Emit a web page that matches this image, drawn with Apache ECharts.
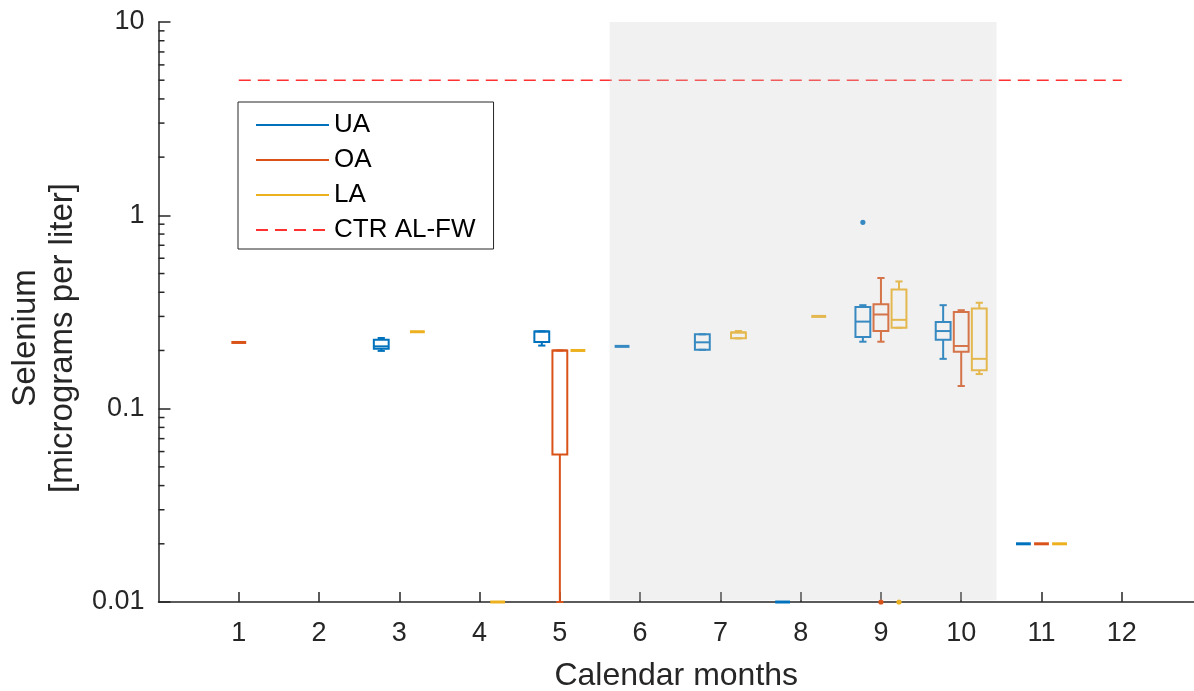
<!DOCTYPE html>
<html><head><meta charset="utf-8">
<script src="https://cdn.jsdelivr.net/npm/echarts@6/dist/echarts.min.js"></script>
<style>html,body{margin:0;padding:0;background:#fff}#c{width:1194px;height:691px}</style>
</head><body><div id="c"></div>
<script>
// ---------- data ----------
const monthTicks = [1,2,3,4,5,6,7,8,9,10,11,12];
const yRange = [0.01, 10];
const yMinorTicks = [0.02,0.03,0.04,0.05,0.06,0.07,0.08,0.09,0.2,0.3,0.4,0.5,0.6,0.7,0.8,0.9,2,3,4,5,6,7,8,9];
const seriesNames = ['UA','OA','LA'];
const seriesColors = ['#0072BD','#D95319','#EDB120'];

// box stats per month: [month, min, q1, median, q3, max]
const UA_boxes = [
  [3, 0.199, 0.204, 0.210, 0.227, 0.232],
  [5, 0.212, 0.221, 0.251, 0.251, 0.251],
  [6, 0.21, 0.21, 0.21, 0.21, 0.21],
  [7, 0.2016, 0.2016, 0.2204, 0.2424, 0.2424],
  [8, 0.01, 0.01, 0.01, 0.01, 0.01],
  [9, 0.222, 0.235, 0.282, 0.336, 0.343],
  [10, 0.181, 0.227, 0.252, 0.281, 0.343],
  [11, 0.02, 0.02, 0.02, 0.02, 0.02]
];
const OA_boxes = [
  [1, 0.22, 0.22, 0.22, 0.22, 0.22],
  [5, 0.01, 0.058, 0.200, 0.200, 0.200],
  [9, 0.222, 0.252, 0.307, 0.347, 0.474],
  [10, 0.131, 0.197, 0.211, 0.316, 0.323],
  [11, 0.02, 0.02, 0.02, 0.02, 0.02]
];
const LA_boxes = [
  [3, 0.25, 0.25, 0.25, 0.25, 0.25],
  [4, 0.01, 0.01, 0.01, 0.01, 0.01],
  [5, 0.2, 0.2, 0.2, 0.2, 0.2],
  [7, 0.231, 0.231, 0.248, 0.248, 0.252],
  [8, 0.30, 0.30, 0.30, 0.30, 0.30],
  [9, 0.262, 0.262, 0.288, 0.414, 0.455],
  [10, 0.151, 0.158, 0.181, 0.330, 0.353],
  [11, 0.02, 0.02, 0.02, 0.02, 0.02]
];
// outliers: [month, value]
const UA_outliers = [[9, 0.92]];
const OA_outliers = [[9, 0.01]];
const LA_outliers = [[9, 0.01]];

const shadeMonths = [5.62, 10.44];
const ctrName = 'CTR AL-FW';
const ctrValue = 5;
const ctrSpan = [1, 12];

// ---------- style constants ----------
const FONT = '"Liberation Sans", Arial, Helvetica, sans-serif';
const TXT = '#262626';
const OFFSETS = [-0.225, 0, 0.225];
const BOX_W = 0.185;
const CAP_W = 0.09;

function boxRenderer(offset, color) {
  return function (params, api) {
    const x = api.value(0) + offset;
    const v = [1,2,3,4,5].map(i => api.value(i));
    const y = v.map(val => api.coord([x, val])[1]);
    const cx = api.coord([x, 1])[0];
    const bw = api.coord([x + BOX_W/2, 1])[0] - api.coord([x - BOX_W/2, 1])[0];
    const cw = api.coord([x + CAP_W/2, 1])[0] - api.coord([x - CAP_W/2, 1])[0];
    const flat = v[0] === v[4];
    const lw = flat ? 3 : 2;
    const st = {stroke: color, lineWidth: lw, fill: null};
    const children = [];
    if (!flat) {
      children.push({type:'line', shape:{x1:cx,y1:y[4],x2:cx,y2:y[3]}, style:st});
      children.push({type:'line', shape:{x1:cx,y1:y[1],x2:cx,y2:y[0]}, style:st});
      children.push({type:'line', shape:{x1:cx-cw/2,y1:y[4],x2:cx+cw/2,y2:y[4]}, style:st});
      children.push({type:'line', shape:{x1:cx-cw/2,y1:y[0],x2:cx+cw/2,y2:y[0]}, style:st});
      children.push({type:'rect', shape:{x:cx-bw/2,y:y[3],width:bw,height:y[1]-y[3]}, style:st});
    }
    children.push({type:'line', shape:{x1:cx-bw/2,y1:y[2],x2:cx+bw/2,y2:y[2]}, style:st});
    return {type:'group', children};
  };
}
function outlierRenderer(offset, color) {
  return function (params, api) {
    const p = api.coord([api.value(0) + offset, api.value(1)]);
    return {type:'circle', shape:{cx:p[0], cy:p[1], r:2.6}, style:{fill:color}};
  };
}

const boxSets = [UA_boxes, OA_boxes, LA_boxes];
const outSets = [UA_outliers, OA_outliers, LA_outliers];
const series = [];
seriesNames.forEach((nm, i) => {
  series.push({type:'line', name:nm, data:[], symbol:'none', lineStyle:{color:seriesColors[i], width:2}, itemStyle:{color:seriesColors[i]}});
  series.push({type:'custom', name:nm+' box', data:boxSets[i], renderItem:boxRenderer(OFFSETS[i], seriesColors[i]), clip:false, z:3, silent:true});
  series.push({type:'custom', name:nm+' outliers', data:outSets[i], renderItem:outlierRenderer(OFFSETS[i], seriesColors[i]), clip:false, z:3, silent:true});
});
series.push({type:'line', name:ctrName, data:ctrSpan.map(m => [m, ctrValue]), symbol:'none',
  lineStyle:{color:'#FF3030', width:1.5, type:[12,7]}, itemStyle:{color:'#FF3030'}, z:4, silent:true});
// shaded period drawn on top (semi-transparent)
series.push({type:'custom', name:'shade', data:[shadeMonths], clip:false, z:6, silent:true,
  renderItem: function (params, api) {
    const p1 = api.coord([api.value(0), yRange[1]]);
    const p2 = api.coord([api.value(1), yRange[0] * 1.02]);
    return {type:'rect', shape:{x:p1[0], y:p1[1], width:p2[0]-p1[0], height:p2[1]-p1[1]}, style:{fill:'rgba(204,204,204,0.27)'}};
  }});
// minor log ticks on y axis
series.push({type:'custom', name:'minor', data:yMinorTicks.map(v => [0, v]), clip:false, z:1, silent:true,
  renderItem: function (params, api) {
    const p = api.coord([api.value(0), api.value(1)]);
    return {type:'line', shape:{x1:p[0], y1:p[1], x2:p[0]+6, y2:p[1]}, style:{stroke:TXT, lineWidth:1.5}};
  }});

const chart = echarts.init(document.getElementById('c'), null, {renderer:'canvas'});
chart.setOption({
  animation:false,
  backgroundColor:'#fff',
  textStyle:{fontFamily:FONT},
  grid:{left:158.5, top:22, right:0, bottom:89, containLabel:false, outerBoundsMode:'none'},
  legend:{
    data:[...seriesNames, ctrName], orient:'vertical', left:238, top:102,
    itemWidth:73, itemHeight:14, itemGap:9, itemTextGap:7,
    padding:[10,18,6,17], borderColor:'#262626', borderWidth:1, borderRadius:0, backgroundColor:'#fff',
    textStyle:{fontSize:26, color:'#000', fontFamily:FONT, lineHeight:26},
    itemStyle:{opacity:0}, selectedMode:false
  },
  xAxis:{
    type:'value', min:0, max:12.9, interval:1,
    name:'Calendar months', nameLocation:'middle', nameGap:58,
    nameTextStyle:{fontSize:32, color:TXT, fontFamily:FONT},
    axisLine:{show:true, lineStyle:{color:TXT, width:1.5}},
    axisTick:{show:true, inside:true, length:10, lineStyle:{color:TXT, width:1.5}, customValues:monthTicks},
    axisLabel:{fontSize:27, color:TXT, margin:18, fontFamily:FONT, customValues:monthTicks},
    splitLine:{show:false}
  },
  yAxis:{
    type:'log', logBase:10, min:yRange[0], max:yRange[1],
    name:'Selenium\n[micrograms per liter]', nameLocation:'middle', nameGap:66, nameRotate:90,
    nameTextStyle:{fontSize:33, color:TXT, fontFamily:FONT, lineHeight:37, align:'center', padding:[0,52,0,0]},
    axisLine:{show:true, lineStyle:{color:TXT, width:1.5}},
    axisTick:{show:true, inside:true, length:12, lineStyle:{color:TXT, width:1.5}},
    axisLabel:{fontSize:27, color:TXT, margin:14, fontFamily:FONT, formatter: v => String(+v.toPrecision(3))},
    splitLine:{show:false}, minorTick:{show:false}
  },
  series
});
</script></body></html>
